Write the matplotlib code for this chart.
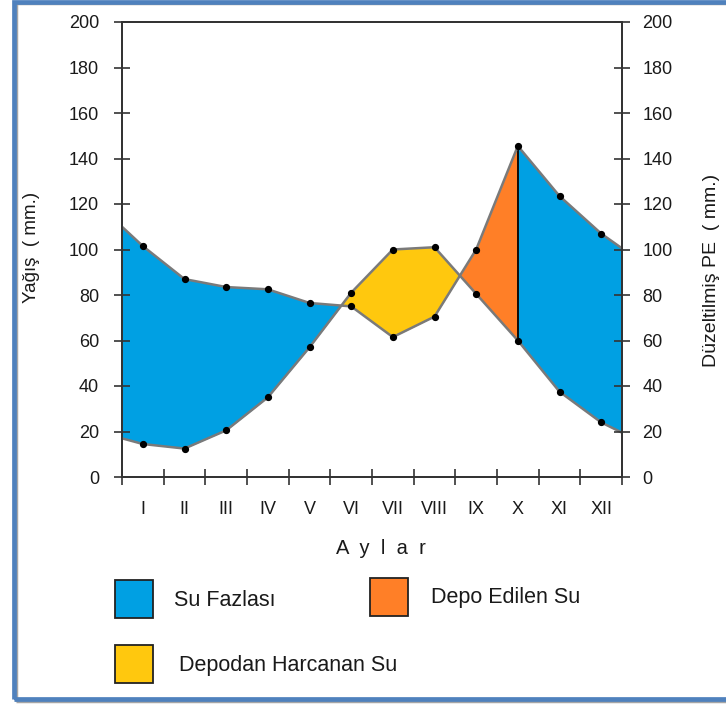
import numpy as np
import matplotlib
matplotlib.use('Agg')
import matplotlib.pyplot as plt
from matplotlib.patches import Rectangle

plt.rcParams['font.family'] = ['Liberation Sans', 'DejaVu Sans']

# monthly values (mm)
months = ['I', 'II', 'III', 'IV', 'V', 'VI', 'VII', 'VIII', 'IX', 'X', 'XI', 'XII']
yagis = [101.5, 87, 83.5, 82.5, 76.5, 75, 61.5, 70.5, 100, 145.5, 123.5, 107]
pe = [14.5, 12.5, 20.5, 35, 57, 81, 100, 101, 80.5, 60, 37.5, 24]
# where the two lines meet the left / right axes
yagis_edges = [110, 100.5]
pe_edges = [17, 19.5]

legend_labels = ['Su Fazlası', 'Depo Edilen Su', 'Depodan Harcanan Su']
c_fazla = '#00A0E3'
c_depo = '#FF7F27'
c_harc = '#FFC80E'

W, H = 726, 704
fig = plt.figure(figsize=(W / 100, H / 100), dpi=100)

def px(x, y):
    # pixel position (from top left) -> figure fraction
    return x / W, 1 - y / H

ax = fig.add_axes([122 / W, 1 - 477 / H, 500 / W, 455 / H])

x = np.concatenate([[0.5], np.arange(1, 13), [12.5]])
p = np.array([yagis_edges[0]] + yagis + [yagis_edges[1]])
e = np.array([pe_edges[0]] + pe + [pe_edges[1]])

# surplus before summer
s = x <= 6
ax.fill_between(x[s], p[s], e[s], where=p[s] >= e[s], interpolate=True, color=c_fazla, lw=0)
# storage used
s = (x >= 5) & (x <= 9)
ax.fill_between(x[s], p[s], e[s], where=p[s] <= e[s], interpolate=True, color=c_harc, lw=0)
# storage refilled
s = (x >= 8) & (x <= 10)
ax.fill_between(x[s], p[s], e[s], where=p[s] >= e[s], interpolate=True, color=c_depo, lw=0)
# surplus after X
s = x >= 10
ax.fill_between(x[s], p[s], e[s], color=c_fazla, lw=0)

ax.plot([10, 10], [pe[9], yagis[9]], color='black', lw=1.3, zorder=3)
for serie in (p, e):
    ax.plot(x, serie, color='#7a7a7a', lw=1.8, zorder=4)
    ax.plot(x[1:-1], serie[1:-1], 'o', color='black', ms=4.2, zorder=5)

ax.set_xlim(0.5, 12.5)
ax.set_ylim(0, 200)
ax.set_yticks(range(0, 201, 20))
ax.set_xticks(range(1, 13), months)
ax.set_xticks(np.arange(0.5, 12.6, 1), minor=True)
ax.tick_params(axis='y', direction='inout', length=12, width=1.2, pad=10.5,
               labelsize=13, colors='#333333', labelcolor='#1a1a1a')
ax.tick_params(axis='x', which='major', length=0, pad=17, labelsize=13, labelcolor='#1a1a1a')
ax.tick_params(axis='x', which='minor', direction='inout', length=12, width=1.2, color='#333333')

ax2 = ax.twinx()
ax2.set_ylim(0, 200)
ax2.set_yticks(range(0, 201, 20))
ax2.tick_params(axis='y', direction='inout', length=12, width=1.2, pad=8.5,
                labelsize=13, colors='#333333', labelcolor='#1a1a1a')

for a in (ax, ax2):
    for sp in a.spines.values():
        sp.set_color('#333333')
        sp.set_linewidth(1.3)

fig.text(*px(32, 247), 'Yağış  ( mm.)', rotation=90, ha='center', va='center', fontsize=13.5, color='#1a1a1a')
fig.text(*px(711, 270), 'Düzeltilmiş PE  ( mm.)', rotation=90, ha='center', va='center', fontsize=14, color='#1a1a1a')
fig.text(*px(381, 548), 'A  y  l  a  r', ha='center', va='center', fontsize=14.5, color='#1a1a1a')

# legend boxes
boxes = [(115, 580, c_fazla), (370, 578, c_depo), (115, 645, c_harc)]
texts = [(174, 600), (431, 598), (179, 665)]
for (bx, by, col), (tx, ty), lab in zip(boxes, texts, legend_labels):
    fig.add_artist(Rectangle(px(bx, by + 38), 38 / W, 38 / H, transform=fig.transFigure,
                             facecolor=col, edgecolor='#222222', lw=1.3))
    fig.text(*px(tx, ty), lab, ha='left', va='center', fontsize=15.5, color='#1a1a1a')

# outer frame with shadow
fig.add_artist(Rectangle(px(16, 701), 800 / W, 698 / H, transform=fig.transFigure,
                         fill=False, edgecolor='#a6a6a6', lw=2.5, zorder=0))
fig.add_artist(Rectangle(px(13.5, 698.5), 800 / W, 696.5 / H, transform=fig.transFigure,
                         fill=False, edgecolor='#4F81BD', lw=3.4))

fig.savefig('out.png', dpi=100)
